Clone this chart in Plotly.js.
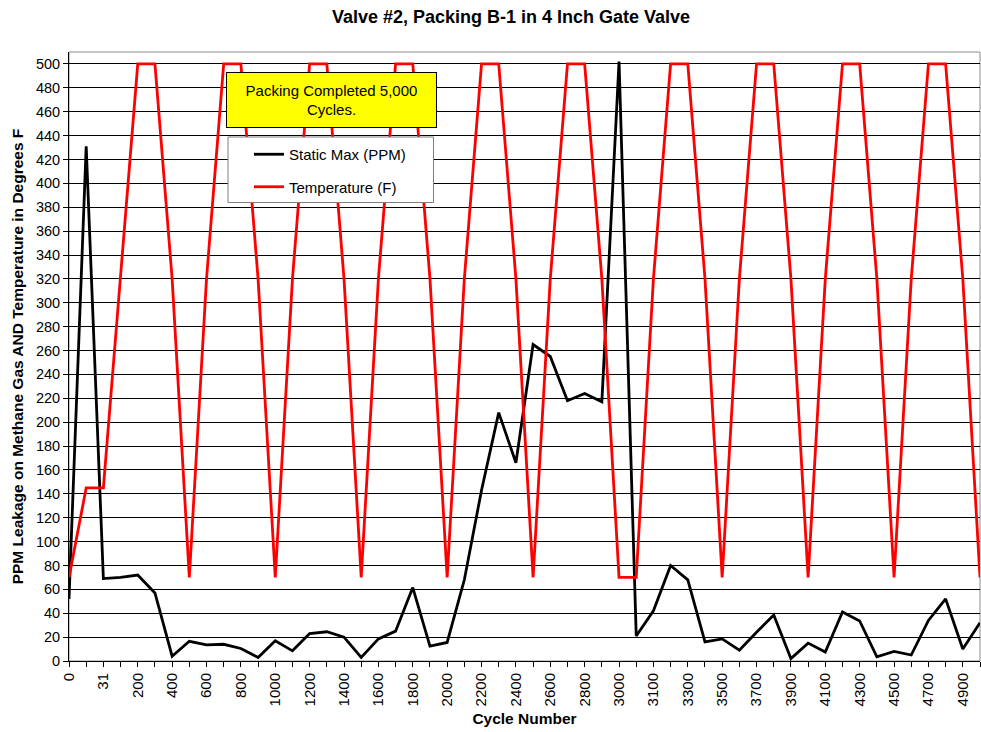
<!DOCTYPE html>
<html>
<head>
<meta charset="utf-8">
<script src="https://cdn.plot.ly/plotly-3.0.1.min.js"></script>
<style>
  html, body { margin: 0; padding: 0; background: #ffffff; }
  #chart { width: 981px; height: 732px; }
</style>
</head>
<body>
<div id="chart"></div>
<script>
// Cycle categories (only every other one is labelled on the axis)
const cycles = ["0","10","31","100","200","300","400","500","600","700","800","900","1000",
  "1100","1200","1300","1400","1500","1600","1700","1800","1900","2000","2100","2200","2300",
  "2400","2500","2600","2700","2800","2900","3000","3050","3100","3200","3300","3400","3500",
  "3600","3700","3800","3900","4000","4100","4200","4300","4400","4500","4600","4700","4800",
  "4900","5000"];

// Static Max (PPM)
const staticMax = [52, 431, 69, 70, 72, 57, 4, 16.5, 13.5, 14,
  10.5, 3, 17, 8.5, 23, 24.5, 20, 3, 18.5, 25,
  61.5, 12.5, 15.5, 68, 143, 208, 166, 265, 255, 218,
  224, 217, 502, 21, 42, 80, 68, 16, 18.5, 9,
  24, 38.5, 2, 15, 7.5, 41, 33.5, 3.5, 8, 5,
  34, 52, 10, 32];

// Temperature (F)
const temperature = [70, 145, 145, 320, 500, 500, 320, 70,
  320, 500, 500, 320, 70,
  320, 500, 500, 320, 70,
  320, 500, 500, 320, 70,
  320, 500, 500, 320, 70,
  320, 500, 500, 320, 70,
  70, 320, 500, 500, 320, 70,
  320, 500, 500, 320, 70,
  320, 500, 500, 320, 70,
  320, 500, 500, 320, 70];

const yTicks = [0,20,40,60,80,100,120,140,160,180,200,220,240,260,280,300,320,340,360,380,400,420,440,460,480,500];

const tickText = cycles.map((c, i) => (i % 2 === 0 ? c : ""));

const W = 981, H = 732;
const mL = 69, mR = 1, mT = 52, mB = 71;
const pw = W - mL - mR, ph = H - mT - mB;
const px = x => (x - mL) / pw;
const py = y => (H - mB - y) / ph;

const font = "Arial, 'Liberation Sans', sans-serif";

const traces = [
  {
    x: cycles, y: staticMax, type: "scatter", mode: "lines",
    name: "Static Max (PPM)", legendgroup: "a",
    line: { color: "#000000", width: 2.8 }
  },
  {
    x: cycles, y: temperature, type: "scatter", mode: "lines",
    name: "Temperature (F)", legendgroup: "b",
    line: { color: "#ff0000", width: 2.8 }
  }
];

const layout = {
  width: W, height: H,
  margin: { l: mL, r: mR, t: mT, b: mB, pad: 0 },
  paper_bgcolor: "#ffffff",
  plot_bgcolor: "#ffffff",
  font: { family: font, size: 15, color: "#000000" },
  title: {
    text: "<b>Valve #2, Packing B-1 in 4 Inch Gate Valve</b>",
    font: { family: font, size: 18, color: "#000000" },
    xref: "paper", x: px(511), xanchor: "center",
    yref: "container", y: 1 - 17 / H, yanchor: "middle"
  },
  xaxis: {
    type: "category",
    range: [0, cycles.length - 1],
    tickmode: "array",
    tickvals: cycles,
    ticktext: tickText,
    tickangle: -90,
    ticks: "outside", ticklen: 5, tickcolor: "#000000", tickwidth: 1,
    showgrid: false,
    showline: true, linecolor: "#000000", linewidth: 1,
    zeroline: false,
    tickfont: { family: font, size: 15, color: "#000000" },
    title: {
      text: "<b>Cycle Number</b>",
      font: { family: font, size: 15.5, color: "#000000" },
      standoff: 7
    }
  },
  yaxis: {
    range: [0, 510],
    tickmode: "array",
    tickvals: yTicks,
    ticks: "outside", ticklen: 5, tickcolor: "#000000", tickwidth: 1,
    showgrid: true, gridcolor: "#000000", gridwidth: 1,
    showline: true, linecolor: "#000000", linewidth: 1,
    zeroline: false,
    tickfont: { family: font, size: 14.5, color: "#000000" },
    title: {
      text: "<b>PPM Leakage on Methane Gas AND Temperature in Degrees F</b>",
      font: { family: font, size: 15.5, color: "#000000" },
      standoff: 8
    }
  },
  showlegend: true,
  legend: {
    x: px(249), xanchor: "left",
    y: py(138), yanchor: "top",
    bgcolor: "rgba(0,0,0,0)",
    borderwidth: 0,
    traceorder: "grouped",
    tracegroupgap: 10,
    font: { family: font, size: 15, color: "#000000" }
  },
  shapes: [
    { type: "rect", xref: "paper", yref: "paper", x0: 0, x1: 1, y0: 0, y1: 1,
      line: { color: "#8c8c8c", width: 1 }, fillcolor: "rgba(0,0,0,0)", layer: "below" },
    { type: "rect", xref: "paper", yref: "paper",
      x0: px(228), x1: px(433.5), y0: py(202.5), y1: py(137),
      line: { color: "#7f7f7f", width: 1 }, fillcolor: "#ffffff", layer: "above" }
  ],
  annotations: [
    {
      xref: "paper", yref: "paper",
      x: px(331.5), y: py(99.7), xanchor: "center", yanchor: "middle",
      text: "Packing Completed 5,000<br>Cycles.",
      showarrow: false,
      align: "center",
      width: 209, height: 54,
      bgcolor: "#ffff00",
      bordercolor: "#000000", borderwidth: 1, borderpad: 0,
      font: { family: font, size: 15, color: "#000000" }
    }
  ]
};

Plotly.newPlot("chart", traces, layout, { displayModeBar: false, staticPlot: true });
</script>
</body>
</html>
